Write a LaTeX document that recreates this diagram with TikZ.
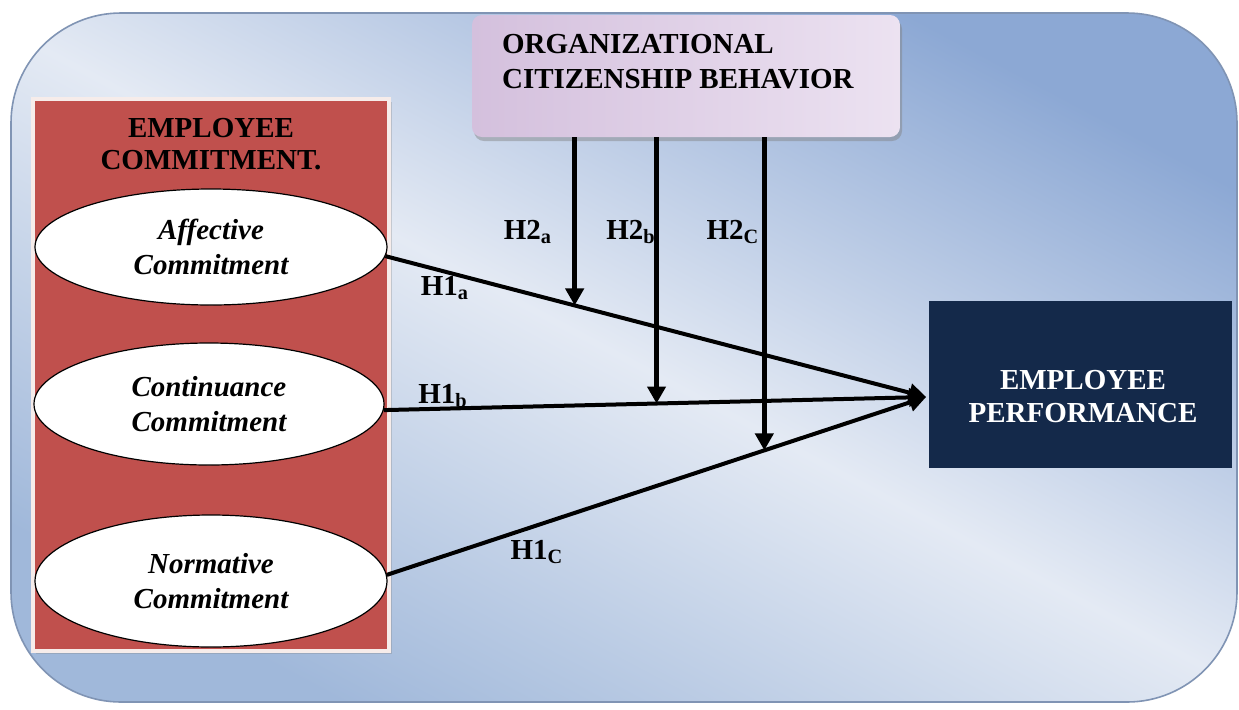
\documentclass[tikz,border=0pt]{standalone}
\usepackage{fontspec}
\setmainfont{Liberation Serif}
\usetikzlibrary{calc, positioning, arrows.meta, shadows, shapes.geometric}
\definecolor{ecRed}{RGB}{192, 80, 77}
\definecolor{ecEdge}{RGB}{246, 236, 234}
\definecolor{epNavy}{RGB}{20, 41, 74}
\definecolor{bgDark}{RGB}{140, 168, 212}
\definecolor{bgMid}{RGB}{160, 184, 218}
\definecolor{bgLight}{RGB}{228, 234, 244}
\definecolor{bgEdge}{RGB}{128, 148, 180}
\definecolor{ocbA}{RGB}{212, 192, 221}
\definecolor{ocbB}{RGB}{236, 226, 241}

\begin{document}
\begin{tikzpicture}[
  x=0.5pt, y=-0.5pt,
  >={Triangle[length=8.5pt, width=9pt]},
  every node/.style={font=\fontsize{14.5}{17.5}\selectfont\bfseries},
  construct/.style={ellipse, draw=black, line width=0.6pt, fill=white, align=center,
    inner sep=0pt, font=\fontsize{14.5}{17.5}\selectfont\bfseries\itshape},
  hyp/.style={->, line width=2pt},
  hlabel/.style={inner sep=1pt}
]
  % --- Canvas ---
  \fill[white] (0,0) rectangle (1239,709);
  \useasboundingbox (0,0) rectangle (1239,709);
  \path[draw=bgEdge, line width=0.8pt, rounded corners=55pt,
    top color=bgDark, bottom color=bgMid, middle color=bgLight, shading angle=-28]
    (11,13) rectangle (1237,702);

  % --- Employee commitment block ---
  \node[draw=ecEdge, line width=2pt, fill=ecRed, minimum width=178pt, minimum height=276pt,
    drop shadow={opacity=0.3, shadow xshift=1.5pt, shadow yshift=-1.5pt}] (ec) at (211,375) {};
  \node[align=center, font=\fontsize{14.5}{16}\selectfont\bfseries] (ectitle) at (211,144) {EMPLOYEE\\COMMITMENT.};
  \node[construct, minimum width=176pt, minimum height=58pt] (aff) at (211,247) {Affective\\Commitment};
  \node[construct, minimum width=175pt, minimum height=61pt] (con) at (209,404) {Continuance\\Commitment};
  \node[construct, minimum width=176pt, minimum height=66pt] (nor) at (211,581) {Normative\\Commitment};

  % --- Organizational citizenship behavior ---
  \node[rounded corners=5pt, left color=ocbA, right color=ocbB, minimum width=214pt, minimum height=61pt,
    drop shadow={opacity=0.45, shadow xshift=1pt, shadow yshift=-2pt}] (ocb) at (686,76) {};
  \node[anchor=west, align=left] (ocblabel) at (495,62) {ORGANIZATIONAL\\CITIZENSHIP BEHAVIOR};

  % --- Employee performance ---
  \node[fill=epNavy, minimum width=151.5pt, minimum height=83.5pt] (ep) at (1080,384) {};
  \node[align=center, text=white, font=\fontsize{14.5}{16.5}\selectfont\bfseries] (eplabel) at (1083,397) {EMPLOYEE\\PERFORMANCE};
  \coordinate (tip) at ($(ep.west)+(-2,13)$);

  % direct paths H1
  \draw[hyp] (aff.-3) -- (tip) coordinate[pos=0.35] (ma);
  \draw[hyp] (con.-2) -- (tip) coordinate[pos=0.503] (mb);
  \draw[hyp] (nor.2) -- (tip) coordinate[pos=0.70] (mc);

  % moderating paths H2
  \draw[hyp, line width=2.2pt] (ma |- ocb.south) -- (ma);
  \draw[hyp, line width=2.2pt] (mb |- ocb.south) -- (mb);
  \draw[hyp, line width=2.2pt] (mc |- ocb.south) -- (mc);

  % labels
  \node[hlabel] (h2a) at (528,232) {H2\textsubscript{a}};
  \node[hlabel] (h2b) at (631,232) {H2\textsubscript{b}};
  \node[hlabel] (h2c) at (733,232) {H2\textsubscript{C}};
  \node[hlabel] (h1a) at (445,288) {H1\textsubscript{a}};
  \node[hlabel] (h1b) at (443,396) {H1\textsubscript{b}};
  \node[hlabel] (h1c) at (537,552) {H1\textsubscript{C}};
\end{tikzpicture}
\end{document}
